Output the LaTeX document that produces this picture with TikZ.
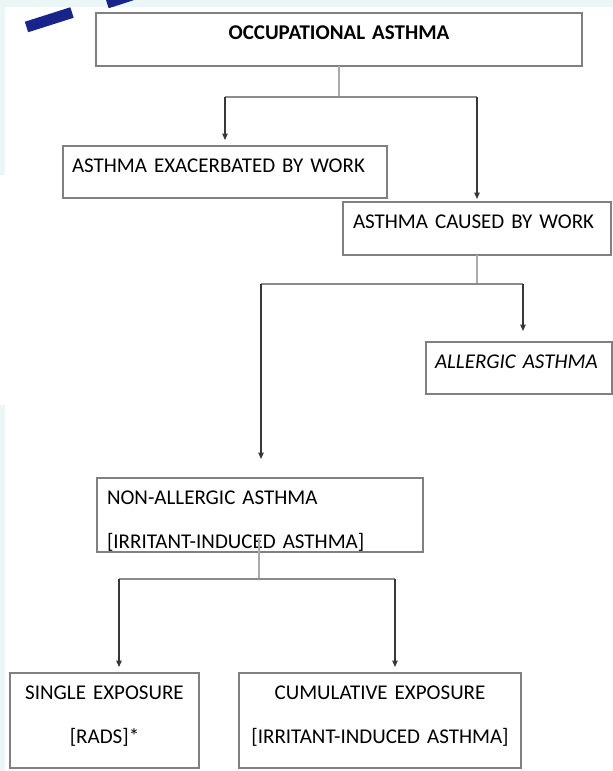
\documentclass[tikz,border=0pt]{standalone}
\usepackage{fontspec}
\setmainfont{Carlito}
\usetikzlibrary{arrows.meta}
\definecolor{cyanbg}{RGB}{234,247,246}
\definecolor{dashblue}{RGB}{24,36,140}
\definecolor{boxgray}{RGB}{128,128,128}
\definecolor{stemgray}{RGB}{170,170,170}
\definecolor{hgray}{RGB}{140,140,140}
\definecolor{arrgray}{RGB}{55,55,55}
\tikzset{
  box/.style={draw=boxgray, line width=1.3pt, anchor=north west, outer sep=0pt,
    inner ysep=0pt, text height=26pt, font=\fontsize{21}{44}\selectfont},
  stemline/.style={draw=stemgray, line width=1.1pt},
  hline/.style={draw=hgray, line width=1.1pt},
  arr/.style={draw=arrgray, line width=1.3pt, -{Triangle[length=6.5pt,width=5.5pt]}},
  bluedash/.style={draw=dashblue, line width=11pt, line cap=butt}
}
\begin{document}
\begin{tikzpicture}[x=1pt,y=-1pt]
\useasboundingbox (0,0) rectangle (613,771);
% background strips
\fill[cyanbg] (0,0) rectangle (613,7);
\fill[cyanbg] (0,0) rectangle (5,175);
\fill[cyanbg] (0,405) rectangle (5,771);
% blue dashes
\begin{scope}
\clip (0,0) rectangle (613,771);
\draw[bluedash] (26.5,27) -- (72,12.5);
\draw[bluedash] (107,3) -- (152,-11.5);
\end{scope}
% boxes
\node[box, font=\fontsize{21}{44}\selectfont\bfseries, inner xsep=0pt, text width=486pt, text depth=27pt, align=center] (b1) at (96,13) {OCCUPATIONAL~ASTHMA};
\node[box, inner xsep=9pt, text width=306pt, text depth=26pt, align=left] (b2) at (63,146) {ASTHMA~EXACERBATED~BY~WORK};
\node[box, inner xsep=10pt, text width=248pt, text depth=27pt, align=left] (b3) at (343,202) {ASTHMA~CAUSED~BY~WORK};
\node[box, inner xsep=9pt, text width=168pt, text depth=26pt, align=left, font=\fontsize{21}{44}\selectfont\itshape] (b4) at (426,342) {ALLERGIC~ASTHMA};
\node[box, inner xsep=10pt, text width=306pt, text depth=48pt, align=left] (b5) at (97,478) {NON-ALLERGIC~ASTHMA\\\relax[IRRITANT-INDUCED~ASTHMA]};
\node[box, inner xsep=4pt, text width=181pt, text depth=69pt, align=center] (b6) at (10,673) {SINGLE~EXPOSURE\\\relax[RADS]*};
\node[box, inner xsep=4pt, text width=274pt, text depth=69pt, align=center] (b7) at (239,673) {CUMULATIVE~EXPOSURE\\\relax[IRRITANT-INDUCED~ASTHMA]};
% junction coordinates
\coordinate (j1) at (339,97);
\coordinate (k2) at (225,97);
\coordinate (k3) at (477,97);
\coordinate (j2) at (477,284);
\coordinate (k5) at (261,284);
\coordinate (k4) at (523,284);
\coordinate (j3) at (259,579);
\coordinate (k6) at (119,579);
\coordinate (k7) at (395,579);
% connectors level 1
\draw[stemline] (b1.south) -- (j1);
\draw[hline] (k2) -- (k3);
\draw[arr, shorten >=6pt] (k2) -- (k2 |- b2.north);
\draw[arr, shorten >=3pt] (k3) -- (k3 |- b3.north);
% connectors level 2
\draw[stemline] (b3.south) -- (j2);
\draw[hline] (k5) -- (k4);
\draw[arr, shorten >=11pt] (k4) -- (k4 |- b4.north);
\draw[arr, shorten >=19pt] (k5) -- (k5 |- b5.north);
% connectors level 3
\draw[stemline] ([xshift=-1pt,yshift=14pt]b5.south) -- (j3);
\draw[hline] (k6) -- (k7);
\draw[arr, shorten >=6pt] (k6) -- (k6 |- b6.north);
\draw[arr, shorten >=6pt] (k7) -- (k7 |- b7.north);
\end{tikzpicture}
\end{document}
